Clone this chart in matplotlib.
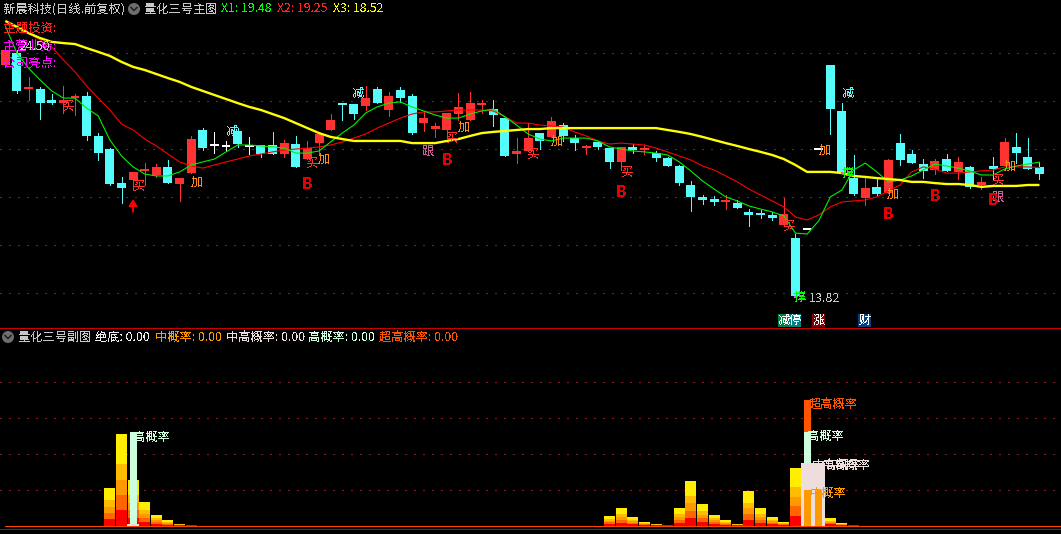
import numpy as np
import matplotlib
matplotlib.use("Agg")
import matplotlib.pyplot as plt
from matplotlib.patches import Circle, Rectangle

plt.rcParams['font.family'] = ['Noto Sans CJK SC', 'DejaVu Sans']
plt.rcParams['text.antialiased'] = False

open_ = [23.56,24.06,22.55,22.55,22.09,21.96,22.17,22.26,20.58,20.03,18.60,18.73,19.11,18.94,19.28,18.56,19.02,20.83,20.20,20.16,
         20.79,20.16,20.20,20.20,19.82,20.24,19.61,20.28,20.83,21.92,21.92,21.84,22.55,21.67,22.51,22.26,21.12,20.87,20.83,21.50,
         21.25,21.88,21.71,21.33,19.82,19.95,20.70,20.54,21.04,20.49,20.07,20.33,20.07,19.49,20.12,19.99,19.86,19.65,19.32,18.52,
         18.02,17.93,17.81,17.76,17.39,17.30,17.26,16.84,16.29,16.67,20.03,23.56,21.63,18.81,17.97,18.44,18.18,20.28,19.82,19.40,
         19.15,19.61,19.07,19.28,18.52,19.32,19.32,20.12,19.70,19.28]
close = [24.19,22.47,22.59,21.96,21.96,22.09,22.22,20.58,19.86,18.56,18.39,19.07,19.15,19.28,18.60,18.81,20.45,20.07,20.20,20.16,
         20.24,20.16,19.82,19.82,20.28,19.28,20.07,20.66,21.25,21.88,21.50,22.17,21.96,22.26,22.17,20.70,21.33,21.00,21.54,21.80,
         21.96,21.92,21.46,19.74,19.95,20.49,20.37,21.21,20.58,20.28,20.12,20.12,19.49,20.12,19.99,20.03,19.65,19.32,18.60,18.02,
         17.89,17.81,17.85,17.55,17.26,17.26,17.13,17.30,13.86,16.67,20.03,21.71,19.07,18.14,18.39,18.14,19.57,19.57,19.44,19.11,
         19.53,19.11,19.49,18.44,18.65,19.19,20.33,19.86,19.19,18.98]
high = [24.32,24.19,23.06,22.64,22.34,22.68,22.34,22.43,20.70,20.07,18.86,19.07,19.44,19.40,19.57,18.81,20.58,20.91,20.75,20.37,
        20.91,20.54,20.20,20.75,20.41,20.58,20.37,20.75,21.50,21.92,21.92,22.68,22.64,22.43,22.64,22.34,21.59,21.12,21.54,22.38,
        22.43,22.09,22.09,21.33,20.49,21.12,20.70,21.38,21.12,20.62,20.20,20.33,20.07,20.12,20.24,20.20,19.95,19.70,19.36,18.69,
        18.10,18.06,18.10,17.89,17.51,17.47,17.39,17.97,16.46,16.67,20.03,23.56,21.96,19.78,18.81,18.81,19.61,20.66,19.99,19.61,
        19.61,19.82,19.70,19.32,18.86,19.70,20.49,20.70,20.49,19.49]
low = [23.48,22.38,22.09,21.29,21.92,21.54,21.46,20.41,19.57,18.52,17.76,18.31,18.52,18.86,18.60,17.85,19.02,19.99,19.86,19.95,
       20.12,19.82,19.70,19.82,19.70,19.28,19.61,19.82,20.83,21.25,21.29,21.67,21.96,21.42,22.01,20.66,20.79,20.54,20.54,21.25,
       21.25,21.54,21.00,19.74,19.44,19.95,20.03,20.54,20.37,19.99,19.82,20.03,19.23,19.15,19.86,19.82,19.53,19.32,18.52,17.43,
       17.72,17.68,17.51,17.55,16.80,17.13,17.05,16.84,13.82,16.67,20.03,20.66,19.07,18.10,17.68,18.10,18.18,19.36,19.44,18.81,
       18.98,19.11,18.77,18.39,18.35,18.77,19.32,19.44,19.19,18.77]

x1_green = [25.20,24.06,23.43,22.93,22.47,22.17,22.17,21.75,21.42,20.41,19.74,19.28,18.98,18.90,18.90,19.07,19.36,19.49,19.61,19.91,
            20.20,20.20,20.16,20.12,20.07,19.86,19.86,19.95,20.33,20.70,21.04,21.54,21.80,21.96,22.01,21.80,21.63,21.46,21.33,21.33,
            21.50,21.63,21.71,21.38,21.04,20.66,20.45,20.37,20.49,20.49,20.49,20.37,20.12,20.03,19.95,19.91,19.86,19.78,19.49,19.11,
            18.69,18.35,18.02,17.85,17.64,17.51,17.39,17.22,16.50,16.46,17.01,18.02,18.31,19.15,19.44,19.07,18.65,18.73,18.90,19.15,
            19.40,19.32,19.23,19.11,18.94,18.94,19.19,19.32,19.40,19.48]
x2_red = [25.28,25.11,24.90,24.61,24.32,23.77,23.27,22.68,22.17,21.67,21.08,20.83,20.45,20.16,19.82,19.49,19.32,19.23,19.36,19.49,
          19.61,19.74,19.82,19.91,19.99,20.03,20.07,20.12,20.20,20.33,20.49,20.66,20.91,21.12,21.33,21.50,21.59,21.59,21.63,21.67,
          21.67,21.67,21.63,21.38,21.12,21.12,21.04,21.00,20.96,20.75,20.58,20.37,20.24,20.28,20.24,20.20,20.07,19.91,19.74,19.57,
          19.32,19.15,18.90,18.65,18.35,18.10,17.85,17.60,17.18,17.05,17.26,17.60,17.81,17.85,17.89,18.02,18.27,18.52,19.07,19.28,
          19.19,19.02,19.02,19.07,19.11,19.15,19.28,19.28,19.28,19.25]
x3_yellow = [25.41,25.16,24.90,24.69,24.53,24.48,24.44,24.27,24.11,23.94,23.69,23.48,23.35,23.18,23.01,22.85,22.64,22.47,22.30,22.13,
             21.96,21.80,21.67,21.50,21.33,21.12,20.91,20.70,20.54,20.45,20.37,20.37,20.37,20.37,20.37,20.28,20.28,20.28,20.37,20.45,
             20.58,20.70,20.75,20.79,20.83,20.87,20.87,20.91,20.91,20.91,20.91,20.91,20.91,20.91,20.91,20.91,20.91,20.83,20.75,20.66,
             20.54,20.41,20.28,20.16,20.03,19.91,19.78,19.61,19.36,19.07,19.07,19.07,19.02,18.90,18.86,18.81,18.77,18.73,18.65,18.65,
             18.60,18.56,18.56,18.52,18.44,18.48,18.48,18.48,18.52,18.52]
price_grid = [24.06, 22.05, 20.03, 18.02, 16.00, 13.98]

grad_idx = [9,10,11,12,13,14,15,16,
            52,53,54,55,56,57,58,59,60,61,62,63,64,65,66,67,68,71,72,73]
grad_val = [21,51,25.5,13,6,3,1,0.5,
            5.5,10,5,2.2,1.1,0.5,9.5,24.5,12,6,2.8,1.1,19,9.5,4.5,2.2,32,4,1.6,0.5]
grad_frac = [1/6, 1/6, 1/6, 1/6, 2/6]
grad_col = ['#ff0000', '#ff6600', '#ff9900', '#ffbb00', '#ffee00']
chaogao_idx, chaogao_val = [69], [69.5]
gao_idx, gao_val = [11, 69], [52, 52]
zhonggao_idx, zhonggao_val = [11, 69, 70], [1, 34.5, 34.5]
zhong_idx, zhong_val = [69, 70], [19.5, 19.5]
sub_grid = [20, 40, 60, 80]

W, H = 1061, 534
STEP = 11.62
X0 = 5.3
CYAN, RED = '#54fcfc', '#ff3232'
PX = 0.72

fig = plt.figure(figsize=(W/100, H/100), dpi=100, facecolor='black')
xlim = (-X0/STEP, (W-X0)/STEP)

ax = fig.add_axes([0, (H-328)/H, 1, 328/H], facecolor='black')
ax.set_xlim(*xlim)
ax.set_ylim(12.514, 26.29)
ax.axis('off')
for g in price_grid:
    ax.axhline(g, color='#8c1a1a', lw=PX, ls=(0, (1.4, 7)), antialiased=False, zorder=1)

n = len(open_)
for i in range(n):
    o, c = open_[i], close[i]
    col = 'white' if o == c else (RED if c > o else CYAN)
    if high[i] > low[i]:
        ax.vlines(i, low[i], high[i], color=col, lw=PX, antialiased=False, zorder=2)
    if abs(c-o) < 0.06:
        ax.hlines(max(o, c), i-0.38, i+0.38, color=col, lw=PX*1.5, antialiased=False, zorder=3)
    else:
        ax.bar(i, abs(c-o), bottom=min(o, c), width=9/STEP, color=col, lw=0, antialiased=False, zorder=3)

xs = np.arange(n)
ax.plot(xs, x2_red, color='#ff0000', lw=0.8, antialiased=True, zorder=4)
ax.plot(xs, x1_green, color='#00f000', lw=0.8, antialiased=True, zorder=4)
ax.plot(xs, x3_yellow, color='#ffff00', lw=1.7, antialiased=True, zorder=5, solid_capstyle='butt')

sub = fig.add_axes([0, (H-529)/H, 1, 200/H], facecolor='black')
sub.set_xlim(*xlim)
sub.set_ylim(-1.94, 109.17)
sub.axis('off')
for g in sub_grid:
    sub.axhline(g, color='#8c1a1a', lw=PX, ls=(0, (1.4, 7)), antialiased=False, zorder=1)
for i, v in zip(grad_idx, grad_val):
    bottom = 0
    for f, col in zip(grad_frac, grad_col):
        sub.bar(i, v*f, bottom=bottom, width=11/STEP, color=col, lw=0, antialiased=False, zorder=2)
        bottom += v*f
sub.bar(chaogao_idx, chaogao_val, width=7/STEP, color='#ff5500', lw=0, antialiased=False, zorder=3)
sub.bar(gao_idx, gao_val, width=7/STEP, color='#ccffdd', lw=0, antialiased=False, zorder=4)
sub.bar(zhonggao_idx, zhonggao_val, width=12.6/STEP, color='#eedddd', lw=0, antialiased=False, zorder=5)
sub.bar(zhong_idx, zhong_val, width=7/STEP, color='#ff9900', lw=0, antialiased=False, zorder=6)
sub.axhline(0, xmin=5/W, color='#ff4400', lw=PX, antialiased=True, zorder=7)

ov = fig.add_axes([0, 0, 1, 1], facecolor='none')
ov.set_xlim(0, W)
ov.set_ylim(H, 0)
ov.axis('off')
ov.add_patch(Rectangle((0, 328), W, 1, fc='#c80000', lw=0, antialiased=False))
ov.add_patch(Rectangle((0, 529), W, 1, fc='#c80000', lw=0, antialiased=False))

def t(x, y, s, col, size=8.8, **kw):
    ov.text(x, y, s, color=col, fontsize=size, va='center', ha=kw.pop('ha', 'left'), **kw)

def icon(x, y):
    ov.add_patch(Circle((x, y), 6, fc='#6e6e6e', lw=0))
    ov.plot([x-3, x, x+3], [y-1.5, y+1.5, y-1.5], color='#202020', lw=1.1)

GR = '#c8c8c8'
t(3, 9, '新晨科技(日线.前复权)', GR)
icon(134, 9)
t(144, 9, '量化三号主图', GR)
t(221, 9, 'X1: 19.48', '#00ff00')
t(277, 9, 'X2: 19.25', '#ff2020')
t(333, 9, 'X3: 18.52', '#ffff00')
t(3, 28, '主题投资:', '#ff2020', 9)
t(3, 46, '主营业务:', '#ff00ff', 9)
t(50, 46, '24.50', GR, 8.8, ha='right')
t(3, 63, '公司亮点:', '#ff00ff', 9)

for x, y in [(68,106),(139,186),(312,163),(452,138),(533,154),(627,172),(789,226),(998,180)]:
    t(x, y, '买', '#ff3030', ha='center')
for x, y in [(197,182),(324,159),(464,127),(557,141),(825,150),(893,194),(1010,166)]:
    t(x, y, '加', '#ff8c1a', ha='center')
for x, y in [(232,131),(358,93),(848,93)]:
    t(x, y, '减', CYAN, ha='center')
for x, y in [(428,151),(998,197)]:
    t(x, y, '跟', '#c86496', ha='center')
for x, y in [(307,184),(447,160),(621,192),(888,214),(935,196),(993,200)]:
    t(x, y, 'B', '#e80000', 11, ha='center', fontweight='bold')
ov.annotate('', xy=(133, 199), xytext=(133, 212),
            arrowprops=dict(arrowstyle='-|>,head_width=0.25,head_length=0.4', color='#ff0000', lw=1.3, shrinkA=0, shrinkB=0))

t(800, 297, '撑', '#00ff00', ha='center')
t(848, 173, '撑', '#00ff00', ha='center')
ov.add_patch(Circle((795, 297), 1.2, fc='#ff40ff', lw=0))
ov.add_patch(Circle((842, 173), 1.2, fc='#ff40ff', lw=0))
t(809, 298, '13.82', GR, 9)

for x0, x1, s, bg in [(778,789,'减','#008040'), (789,801,'停','#008080'), (812,825,'涨','#800000'), (858,871,'财','#004080')]:
    ov.add_patch(Rectangle((x0, 314), x1-x0, 13, fc=bg, lw=0))
    t((x0+x1)/2, 320, s, 'white', ha='center')

icon(8, 337)
t(18, 337, '量化三号副图', GR)
t(95, 337, '绝底: 0.00', '#eeeeee')
t(155, 337, '中概率: 0.00', '#ff9900')
t(226, 337, '中高概率: 0.00', '#eedddd')
t(308, 337, '高概率: 0.00', '#ccffdd')
t(379, 337, '超高概率: 0.00', '#ff5500')

t(133, 437, '高概率', '#ccffdd')
t(809, 404, '超高概率', '#ff5500')
t(807, 436, '高概率', '#ccffdd')
t(812, 465, '中高概率', '#eedddd')
t(822, 465, '中高概率', '#eedddd')
t(810, 493, '中概率', '#ff9900')

fig.savefig('out.png', dpi=100, facecolor='black')
